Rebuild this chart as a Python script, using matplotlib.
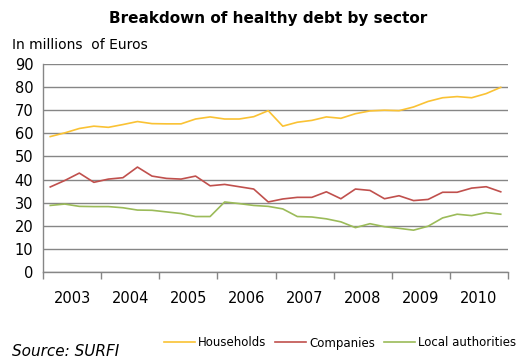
import matplotlib.pyplot as plt
from matplotlib.ticker import FixedLocator

# Quarterly figures, 2003 Q1 - 2010 Q4 (millions of Euros)
years = ["2003", "2004", "2005", "2006", "2007", "2008", "2009", "2010"]
households = [58.6, 60.2, 62.1, 63.1, 62.6, 63.8, 65.1, 64.2,
              64.1, 64.1, 66.2, 67.1, 66.2, 66.2, 67.2, 69.8,
              63.1, 64.8, 65.6, 67.1, 66.5, 68.5, 69.7, 70.0,
              69.8, 71.4, 73.8, 75.4, 75.9, 75.4, 77.2, 79.9]
companies = [36.8, 39.6, 42.8, 38.8, 40.2, 40.8, 45.4, 41.5,
             40.5, 40.2, 41.5, 37.3, 37.9, 36.9, 35.9, 30.3,
             31.6, 32.3, 32.3, 34.7, 31.7, 35.9, 35.3, 31.7,
             33.0, 30.9, 31.4, 34.5, 34.5, 36.3, 36.9, 34.7]
local_authorities = [28.8, 29.4, 28.4, 28.3, 28.3, 27.8, 26.8, 26.7,
                     26.0, 25.3, 24.0, 24.0, 30.3, 29.6, 28.8, 28.4,
                     27.3, 24.0, 23.8, 23.0, 21.7, 19.2, 20.9, 19.6,
                     18.9, 18.1, 19.8, 23.4, 25.0, 24.4, 25.7, 25.0]

series = [
    ("Households", households, "#FAC234"),
    ("Companies", companies, "#C0504D"),
    ("Local authorities", local_authorities, "#9BBB59"),
]

fig = plt.figure(figsize=(5.21, 3.63), dpi=100)
ax = fig.add_axes([43 / 521, 1 - 272 / 363, 465 / 521, 208 / 363])

x = list(range(len(households)))
for name, vals, color in series:
    ax.plot(x, vals, color=color, lw=1.2, label=name)

ax.set_xlim(-0.5, len(x) - 0.5)
ax.set_ylim(0, 90)
ax.set_yticks(range(0, 91, 10))
ax.yaxis.grid(True, color="#868686", lw=1.0)
ax.set_axisbelow(True)

# year labels centred in each group of four quarters, ticks on the boundaries
ax.xaxis.set_major_locator(FixedLocator([4 * i + 1.5 for i in range(len(years))]))
ax.set_xticklabels(years)
ax.xaxis.set_minor_locator(FixedLocator([4 * i - 0.5 for i in range(len(years) + 1)]))
ax.tick_params(axis="x", which="major", length=0, pad=14, labelsize=10.5)
ax.tick_params(axis="x", which="minor", length=5, color="#868686", width=1.0)
ax.tick_params(axis="y", length=0, pad=7, labelsize=10.5)

for side in ("top", "right"):
    ax.spines[side].set_visible(False)
for side in ("left", "bottom"):
    ax.spines[side].set_color("#868686")
    ax.spines[side].set_linewidth(1.0)

fig.text(0.515, 1 - 18 / 363, "Breakdown of healthy debt by sector",
         ha="center", va="center", fontsize=11, fontweight="bold")
fig.text(12 / 521, 1 - 45 / 363, "In millions  of Euros",
         ha="left", va="center", fontsize=10)
fig.text(12 / 521, 1 - 352 / 363, "Source: SURFI",
         ha="left", va="center", fontsize=11, style="italic")

fig.legend(loc="center left", bbox_to_anchor=(164 / 521, 1 - 343 / 363),
           ncol=3, frameon=False, fontsize=8.5, handlelength=2.6,
           handletextpad=0.25, columnspacing=0.8, borderaxespad=0,
           borderpad=0)

fig.savefig("out.png", dpi=100)
